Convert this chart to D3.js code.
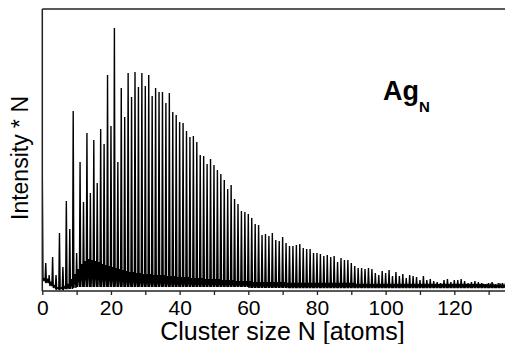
<!DOCTYPE html>
<html>
<head>
<meta charset="utf-8">
<script src="https://cdn.jsdelivr.net/npm/d3@7"></script>
<style>
  html, body { margin: 0; padding: 0; background: #fff; }
  svg { display: block; font-family: "Liberation Sans", Arial, sans-serif; }
</style>
</head>
<body>
<svg id="chart" width="505" height="344"></svg>
<script>
// Cluster sizes N = 0 .. 134
const clusterSizes = d3.range(0, 135);

// Main peak heights (Intensity * N, arbitrary units) at each integer N
const peakIntensity = [
  118, 28, 16, 34, 16, 58, 24, 90, 62, 180,
  38, 129, 89, 158, 98, 151, 108, 162, 147, 216,
  165, 263, 129, 203, 174, 218, 194, 219, 204, 218,
  205, 216, 195, 203, 199, 199, 188, 198, 179, 176,
  169, 168, 160, 154, 155, 149, 136, 135, 127, 132,
  126, 121, 117, 111, 102, 106, 92, 87, 80, 79,
  77, 73, 67, 66, 56, 57, 55, 58, 51, 50,
  54, 48, 45, 45, 46, 47, 43, 42, 42, 38,
  38, 37, 35, 36, 34, 35, 29, 33, 31, 31,
  28, 25, 23, 23, 22, 23, 22, 18, 16, 20,
  18, 21, 15, 19, 15, 17, 13, 16, 15, 14,
  11, 15, 11, 12, 10, 9, 8, 11, 12, 9,
  11, 11, 12, 10, 8, 9, 10, 9, 8, 7,
  8, 9, 7, 8, 8
];

// Secondary (background) signal between the main peaks
const humpIntensity = [
  12, 11, 8, 5, 3, 3, 4, 7, 12, 17,
  22, 27, 30, 32, 31, 30, 29, 27, 26, 25,
  24, 23, 22, 21, 20, 19, 19, 18, 18, 17,
  17, 17, 16, 16, 16, 16, 15, 15, 15, 14,
  14, 14, 14, 13, 13, 13, 13, 12, 12, 12,
  12, 12, 11, 11, 11, 11, 10, 10, 10, 10,
  10, 9, 9, 9, 9, 9, 9, 9, 9, 9,
  9, 8, 8, 8, 8, 8, 8, 8, 8, 8,
  8, 8, 8, 8, 8, 8, 8, 8, 8, 8,
  8, 7, 7, 7, 7, 7, 7, 7, 7, 7,
  7, 7, 7, 7, 7, 7, 7, 7, 7, 7,
  7, 7, 7, 7, 7, 7, 7, 7, 7, 7,
  7, 7, 7, 7, 7, 7, 7, 7, 7, 7,
  6, 6, 6, 6, 6
];

// Valley (baseline) level between peaks
const valleyIntensity = [
  10, 8, 5, 3, 2, 2, 2, 2, 2, 3,
  4, 4, 4, 4, 4, 4, 4, 4, 4, 4,
  4, 4, 4, 4, 4, 4, 4, 4, 4, 4,
  4, 4, 4, 4, 4, 4, 4, 4, 4, 4,
  4, 4, 4, 4, 4, 4, 4, 4, 4, 4,
  4, 4, 4, 4, 4, 4, 4, 4, 4, 4,
  3, 3, 3, 3, 3, 3, 3, 3, 3, 3,
  3, 3, 3, 3, 3, 3, 3, 3, 3, 3,
  3, 3, 3, 3, 3, 3, 3, 3, 3, 3,
  3, 3, 3, 3, 3, 3, 3, 3, 3, 3,
  3, 3, 3, 3, 3, 3, 3, 3, 3, 3,
  3, 3, 3, 3, 3, 3, 3, 3, 3, 3,
  3, 3, 3, 3, 3, 3, 3, 3, 3, 3,
  3, 3, 3, 3, 3
];

const majorTicks = [0, 20, 40, 60, 80, 100, 120];
const allTicks = [0, 10, 20, 30, 40, 50, 60, 70, 80, 90, 100, 110, 120, 130];
const xLabel = "Cluster size N [atoms]";
const yLabel = "Intensity * N";
const speciesBase = "Ag";
const speciesSub = "N";

const svg = d3.select("#chart");
const mLeft = 42.3, mRight = 505.8, mTop = 9, mBottom = 291;

const x = d3.scaleLinear().domain([0, 135]).range([mLeft, mRight]);
const y = d3.scaleLinear().domain([0, 282]).range([mBottom, mTop]);

svg.append("clipPath").attr("id", "plotclip")
  .append("rect").attr("x", mLeft).attr("y", mTop)
  .attr("width", 505 - mLeft).attr("height", mBottom - mTop);

// Build spectrum trace from the arrays
const pts = [];
clusterSizes.forEach((n, i) => {
  pts.push([n, peakIntensity[i]]);
  pts.push([n + 0.2, valleyIntensity[i]]);
  pts.push([n + 0.5, humpIntensity[i]]);
  pts.push([n + 0.8, valleyIntensity[i]]);
});

const line = d3.line().x(d => x(d[0])).y(d => y(d[1]));

svg.append("path")
  .datum(pts)
  .attr("clip-path", "url(#plotclip)")
  .attr("d", line)
  .attr("fill", "none")
  .attr("stroke", "#000")
  .attr("stroke-width", 1.4)
  .attr("stroke-linejoin", "miter");

// X axis
const xAxis = d3.axisBottom(x).tickValues(allTicks).tickSize(4)
  .tickFormat(d => majorTicks.includes(d) ? d : "");
const gx = svg.append("g").attr("transform", `translate(0,${mBottom})`).call(xAxis);
gx.select(".domain").remove();
gx.selectAll(".tick line").attr("stroke", "#222").attr("stroke-width", 1.3);
gx.selectAll(".tick text").attr("font-size", 21).attr("fill", "#000")
  .attr("font-family", "Liberation Sans, Arial, sans-serif").attr("dy", "0.66em").attr("y", 10);

// Frame lines
svg.append("line").attr("x1", mLeft).attr("x2", 505).attr("y1", mBottom).attr("y2", mBottom)
  .attr("stroke", "#222").attr("stroke-width", 1.5);
svg.append("line").attr("x1", mLeft).attr("x2", mLeft).attr("y1", mTop).attr("y2", mBottom)
  .attr("stroke", "#222").attr("stroke-width", 1.5);
svg.append("line").attr("x1", mLeft).attr("x2", 505).attr("y1", mTop).attr("y2", mTop)
  .attr("stroke", "#222").attr("stroke-width", 1.5);

// Axis labels
svg.append("text").attr("x", 282.5).attr("y", 340).attr("text-anchor", "middle")
  .attr("font-size", 25).text(xLabel);
svg.append("text").attr("transform", "translate(28.3,158) rotate(-90)")
  .attr("text-anchor", "middle").attr("font-size", 23).text(yLabel);

// Species label
const sp = svg.append("text").attr("x", 383).attr("y", 100)
  .attr("font-size", 27).attr("font-weight", "bold");
sp.append("tspan").text(speciesBase);
sp.append("tspan").attr("font-size", 15).attr("dy", 12).text(speciesSub);
</script>
</body>
</html>
